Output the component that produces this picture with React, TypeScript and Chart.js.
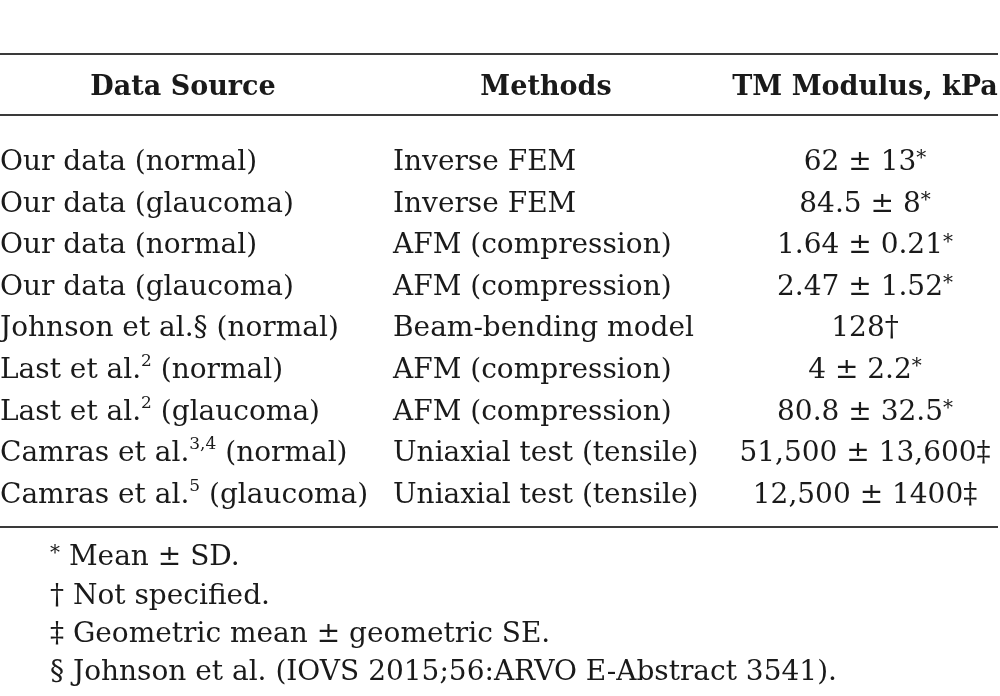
import React, { useEffect, useRef } from "react";
import { Chart, registerables } from "chart.js";

Chart.register(...registerables);

// ---- Table content ----
const headers = ["Data Source", "Methods", "TM Modulus, kPa"];
const sources = [
  "Our data (normal)",
  "Our data (glaucoma)",
  "Our data (normal)",
  "Our data (glaucoma)",
  "Johnson et al.§ (normal)",
  "Last et al.^{2} (normal)",
  "Last et al.^{2} (glaucoma)",
  "Camras et al.^{3,4} (normal)",
  "Camras et al.^{5} (glaucoma)",
];
const methods = [
  "Inverse FEM",
  "Inverse FEM",
  "AFM (compression)",
  "AFM (compression)",
  "Beam-bending model",
  "AFM (compression)",
  "AFM (compression)",
  "Uniaxial test (tensile)",
  "Uniaxial test (tensile)",
];
const moduli = [
  "62 ± 13^{*}",
  "84.5 ± 8^{*}",
  "1.64 ± 0.21^{*}",
  "2.47 ± 1.52^{*}",
  "128†",
  "4 ± 2.2^{*}",
  "80.8 ± 32.5^{*}",
  "51,500 ± 13,600‡",
  "12,500 ± 1400‡",
];
const footnotes = [
  "^{*} Mean ± SD.",
  "† Not specified.",
  "‡ Geometric mean ± geometric SE.",
  "§ Johnson et al. (IOVS 2015;56:ARVO E-Abstract 3541).",
];

// ---- Layout (y scale in row-index units; value = text baseline) ----
const COL_X = [0, 393, 865];
const HEADER_X = [183, 546, 865];
const COL_ALIGN: CanvasTextAlign[] = ["left", "left", "center"];
const HEADER_ROW = -1.803;
const FOOT_ROWS = [9.495, 10.433, 11.346, 12.26];
const FOOT_X = 50;
const RULES = [-2.8, -1.322, 8.582];

const FONT = '"DejaVu Serif"';
const SIZE = 28;
const HEAD_SIZE = 27;
const TEXT = "#1a1a1a";
const RULE = "#3a3a3a";

type Seg = { t: string; sup: boolean };
function parse(s: string): Seg[] {
  const out: Seg[] = [];
  const re = /\^\{([^}]*)\}/g;
  let last = 0;
  let m: RegExpExecArray | null;
  while ((m = re.exec(s))) {
    if (m.index > last) out.push({ t: s.slice(last, m.index), sup: false });
    out.push({ t: m[1], sup: true });
    last = m.index + m[0].length;
  }
  if (last < s.length) out.push({ t: s.slice(last), sup: false });
  return out;
}

function drawRich(
  ctx: CanvasRenderingContext2D,
  s: string,
  x: number,
  y: number,
  align: CanvasTextAlign,
  bold: boolean
) {
  const segs = parse(s);
  const size = bold ? HEAD_SIZE : SIZE;
  const w = bold ? "bold " : "";
  const main = `${w}${size}px ${FONT}`;
  const supDigit = `${w}${Math.round(size * 0.62)}px ${FONT}`;
  const supStar = `${w}${Math.round(size * 0.72)}px ${FONT}`;
  const fontOf = (g: Seg) => (g.sup ? (g.t === "*" ? supStar : supDigit) : main);
  let total = 0;
  const widths = segs.map((g) => {
    ctx.font = fontOf(g);
    const mw = ctx.measureText(g.t).width;
    total += mw;
    return mw;
  });
  let cx = align === "center" ? x - total / 2 : x;
  ctx.textAlign = "left";
  ctx.textBaseline = "alphabetic";
  segs.forEach((g, i) => {
    ctx.font = fontOf(g);
    const raise = g.sup ? (g.t === "*" ? size * 0.2 : size * 0.42) : 0;
    ctx.fillText(g.t, cx, y - raise);
    cx += widths[i];
  });
}

const tablePlugin = {
  id: "tableText",
  afterDatasetsDraw(chart: any) {
    const ctx: CanvasRenderingContext2D = chart.ctx;
    const xs = chart.scales.x;
    const ys = chart.scales.y;
    ctx.save();
    ctx.strokeStyle = RULE;
    ctx.lineWidth = 2;
    RULES.forEach((r) => {
      const py = Math.round(ys.getPixelForValue(r));
      ctx.beginPath();
      ctx.moveTo(xs.getPixelForValue(0), py);
      ctx.lineTo(xs.getPixelForValue(998), py);
      ctx.stroke();
    });
    ctx.fillStyle = TEXT;
    headers.forEach((h, c) => {
      drawRich(ctx, h, xs.getPixelForValue(HEADER_X[c]), ys.getPixelForValue(HEADER_ROW), "center", true);
    });
    const cols = [sources, methods, moduli];
    chart.data.datasets.forEach((_ds: any, c: number) => {
      const meta = chart.getDatasetMeta(c);
      meta.data.forEach((el: any, i: number) => {
        drawRich(ctx, cols[c][i], el.x, el.y, COL_ALIGN[c], false);
      });
    });
    footnotes.forEach((f, i) => {
      drawRich(ctx, f, xs.getPixelForValue(FOOT_X), ys.getPixelForValue(FOOT_ROWS[i]), "left", false);
    });
    ctx.restore();
  },
};

export default function App() {
  const ref = useRef<HTMLCanvasElement | null>(null);
  useEffect(() => {
    if (!ref.current) return;
    const chart = new Chart(ref.current, {
      type: "scatter",
      data: {
        datasets: [sources, methods, moduli].map((col, c) => ({
          label: headers[c],
          data: col.map((_, i) => ({ x: COL_X[c], y: i })),
          pointRadius: 0,
          pointHoverRadius: 0,
        })),
      },
      options: {
        animation: false,
        responsive: false,
        events: [],
        layout: { padding: 0 },
        plugins: { legend: { display: false }, tooltip: { enabled: false } },
        scales: {
          x: { type: "linear", min: 0, max: 1000, display: false },
          y: { type: "linear", min: -4.087, max: 12.644, reverse: true, display: false },
        },
      },
      plugins: [tablePlugin],
    });
    return () => chart.destroy();
  }, []);
  return (
    <div style={{ position: "absolute", left: 0, top: 0, width: 1000, height: 696, background: "#fff" }}>
      <canvas ref={ref} width={1000} height={696} style={{ width: 1000, height: 696 }} />
    </div>
  );
}
